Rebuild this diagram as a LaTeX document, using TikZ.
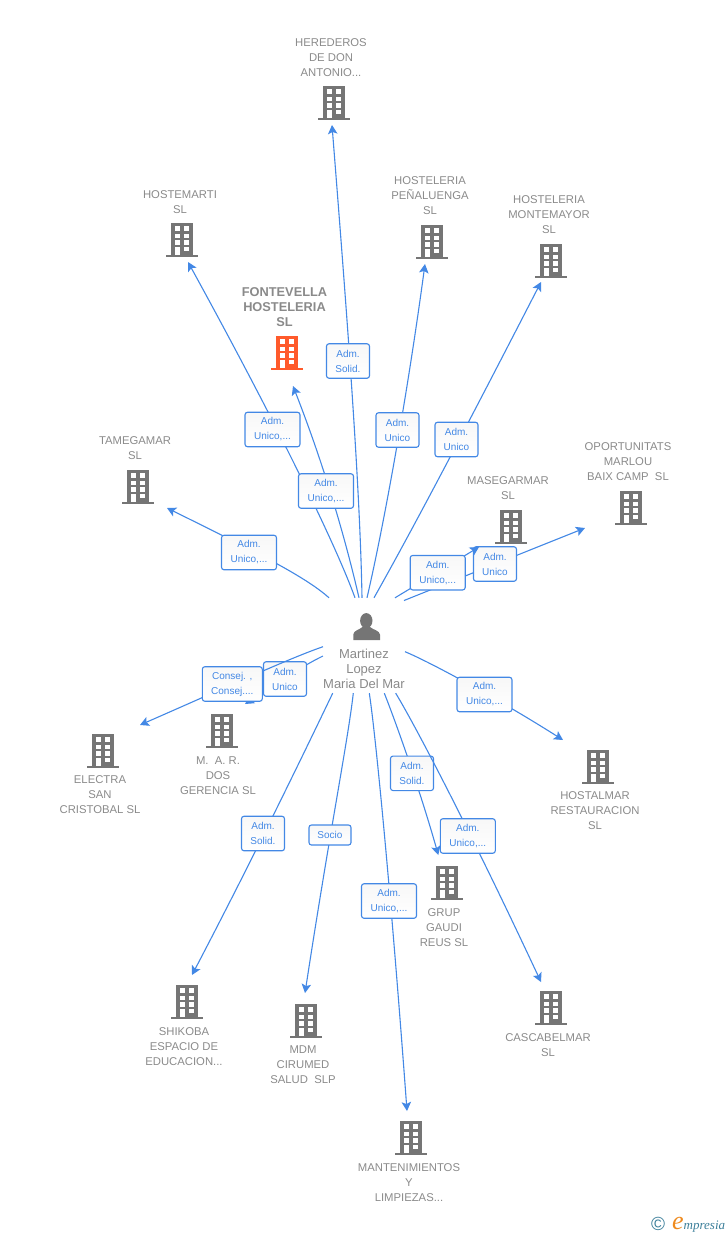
\documentclass[tikz,border=0pt]{standalone}
\usepackage{fontspec}
\setmainfont{Liberation Sans}
\newfontfamily\logofont{Liberation Serif}
\usetikzlibrary{arrows.meta}
\definecolor{iconGray}{HTML}{757575}
\definecolor{textGray}{HTML}{8A8A8A}
\definecolor{linkBlue}{HTML}{4388E5}
\definecolor{mainOrange}{HTML}{FF5A2B}
\definecolor{logoTeal}{HTML}{3C7F9A}
\definecolor{logoOrange}{HTML}{EE8A1E}
\tikzset{
    pics/building/.style = {
        code = {
        \fill [#1] (-11,-16.5) rectangle (11,15);
        \fill [#1] (-16,15) rectangle (16,17);
        \foreach \wy in {-13.2,-5.8,0.9}{
            \fill [white] (-7,\wy) rectangle ++(4.7,4.6);
            \fill [white] (2.3,\wy) rectangle ++(4.7,4.6);
        }
        \fill [white] (-7,7.5) rectangle (-2.3,15);
        \fill [white] (2.3,7.5) rectangle (7,11.7);
        }
    },
    bldbox/.style = {minimum size=46pt, inner sep=0pt},
    perbox/.style = {minimum width=82pt, minimum height=95pt, inner sep=0pt},
    txt/.style = {text=textGray, align=center, inner sep=0pt, yshift=-1pt, font=\fontsize{11.3}{15}\selectfont},
    lab/.style = {draw=linkBlue, line width=1.1pt, rounded corners=2.5pt, top color=black!3, bottom color=white,
        text=linkBlue, align=center, inner sep=0pt, minimum height=34.5pt, minimum width=55pt,
        font=\fontsize{10}{15}\selectfont},
    link/.style = {draw=linkBlue, line width=1.1pt, -{Stealth[length=9pt,width=9.5pt,inset=2pt]}},
}
\begin{document}
\begin{tikzpicture}[x=1pt,y=-1pt]
    \useasboundingbox (0,0) rectangle (728,1235);

    % person in the middle
    \node[perbox] (mm) at (364,645.5) {};
    \fill [iconGray] (366.3,620.7) ellipse (6.2 and 7.6);
    \fill [iconGray] (353.3,640) -- (353.3,634.5) .. controls (353.5,630.5) and (359,630) .. (362.5,627)
        -- (370,627) .. controls (373.5,630) and (379.5,630.5) .. (380,634.5) -- (380,640) -- cycle;
    \node[txt, font=\fontsize{13}{15}\selectfont] (mmt) at (364,668) {Martinez\\Lopez\\Maria Del Mar};

    % companies
    \path pic at (334,102.5) {building=iconGray};
    \node[bldbox] (hered) at (333,102) {};
    \node[txt] (heredt) at (331,57) {HEREDEROS\\DE DON\\ANTONIO...};

    \path pic at (182,239.5) {building=iconGray};
    \node[bldbox] (hmarti) at (181,239) {};
    \node[txt] (hmartit) at (180,201.5) {HOSTEMARTI\\SL};

    \path pic at (432,241.5) {building=iconGray};
    \node[bldbox] (hpena) at (431,241) {};
    \node[txt] (hpenat) at (430,195) {HOSTELERIA\\PEÑALUENGA\\SL};

    \path pic at (551,260.5) {building=iconGray};
    \node[bldbox] (hmonte) at (550,260) {};
    \node[txt] (hmontet) at (549,214) {HOSTELERIA\\MONTEMAYOR\\SL};

    \path pic at (287,352.5) {building=mainOrange};
    \node[bldbox] (fonte) at (287,352.5) {};
    \node[txt, font=\fontsize{12.8}{15}\selectfont\bfseries] (fontet) at (284.5,306) {FONTEVELLA\\HOSTELERIA\\SL};

    \path pic at (138,486.5) {building=iconGray};
    \node[bldbox] (tame) at (137,486) {};
    \node[txt] (tamet) at (135,447.5) {TAMEGAMAR\\SL};

    \path pic at (511,526.5) {building=iconGray};
    \node[bldbox] (mase) at (510,526) {};
    \node[txt] (maset) at (508,487.5) {MASEGARMAR\\SL};

    \path pic at (631,507.5) {building=iconGray};
    \node[bldbox] (oport) at (630,507) {};
    \node[txt] (oportt) at (628,461) {OPORTUNITATS\\MARLOU\\BAIX CAMP\ \ SL};

    \path pic at (103,750.5) {building=iconGray};
    \node[bldbox] (elec) at (102,750) {};
    \node[txt] (elect) at (100,794) {ELECTRA\\SAN\\CRISTOBAL SL};

    \path pic at (222,730.5) {building=iconGray};
    \node[bldbox] (mar) at (221,730) {};
    \node[txt] (mart) at (218,775) {M.\ \ A. R.\\DOS\\GERENCIA SL};

    \path pic at (598,766.5) {building=iconGray};
    \node[bldbox] (hosta) at (597,766) {};
    \node[txt] (hostat) at (595,810) {HOSTALMAR\\RESTAURACION\\SL};

    \path pic at (447,882.5) {building=iconGray};
    \node[bldbox] (grup) at (446,882) {};
    \node[txt] (grupt) at (444,927) {GRUP\\GAUDI\\REUS SL};

    \path pic at (187,1001.5) {building=iconGray};
    \node[bldbox] (shik) at (186,1001) {};
    \node[txt] (shikt) at (184,1046) {SHIKOBA\\ESPACIO DE\\EDUCACION...};

    \path pic at (306,1020.5) {building=iconGray};
    \node[bldbox] (mdm) at (305,1020) {};
    \node[txt] (mdmt) at (303,1064) {MDM\\CIRUMED\\SALUD\ \ SLP};

    \path pic at (551,1007.5) {building=iconGray};
    \node[bldbox] (casc) at (550,1007) {};
    \node[txt] (casct) at (548,1044.5) {CASCABELMAR\\SL};

    \path pic at (411,1137.5) {building=iconGray};
    \node[bldbox] (mant) at (410,1137) {};
    \node[txt] (mantt) at (409,1182) {MANTENIMIENTOS\\Y\\LIMPIEZAS...};

    % links, each one with its label
    \draw [link] ([shift={(-35,0)}]mm.north) .. controls (305,576) and (250,549) .. ([shift={(30,22)}]tame.center);
    \node[lab] (ltame) at (249,552.5) {Adm.\ \\Unico,...};

    \draw [link] ([shift={(-9,0)}]mm.north) .. controls (334,540) and (272,415) .. ([shift={(7,23)}]hmarti.center);
    \node[lab] (lmarti) at (272.5,429.5) {Adm.\ \\Unico,...};

    \draw [link] ([shift={(-5,0)}]mm.north) .. controls (341,520) and (318,450) .. ([shift={(6,33.5)}]fonte.center);
    \node[lab] (lfonte) at (326,491) {Adm.\ \\Unico,...};

    \draw [link] ([shift={(-2,0)}]mm.north) .. controls (360,480) and (345,290) .. ([shift={(-1,23)}]hered.center);
    \node[lab, minimum width=43pt] (lhered) at (348,361) {Adm.\ \\Solid.};

    \draw [link] ([shift={(3,0)}]mm.north) .. controls (385,520) and (408,390) .. ([shift={(-6,23)}]hpena.center);
    \node[lab, minimum width=43pt] (lpena) at (397.5,430) {Adm.\ \\Unico};

    \draw [link] ([shift={(10,0)}]mm.north) .. controls (415,525) and (470,420) .. ([shift={(-9,22)}]hmonte.center);
    \node[lab, minimum width=43pt] (lmonte) at (456.5,439.5) {Adm.\ \\Unico};

    \draw [link] ([shift={(40,2.7)}]mm.north) -- ([shift={(-45,21)}]oport.center);
    \node[lab, minimum width=43pt] (loport) at (495,564) {Adm.\ \\Unico};

    \draw [link] ([shift={(31,0)}]mm.north) -- ([shift={(-31,21)}]mase.center);
    \node[lab] (lmase) at (437.7,572.7) {Adm.\ \\Unico,...};

    \draw [link] ([shift={(41,6.2)}]mm.center) .. controls (430,662) and (500,700) .. ([shift={(-34,-26)}]hosta.center);
    \node[lab] (lhosta) at (484.5,694.5) {Adm.\ \\Unico,...};

    \draw [link] ([shift={(-41,10.5)}]mm.center) .. controls (300,667) and (270,688) .. ([shift={(24,-26)}]mar.center);
    \node[lab, minimum width=43pt] (lmar) at (285,679) {Adm.\ \\Unico};

    \draw [link] ([shift={(-41,1.2)}]mm.center) .. controls (290,658) and (220,690) .. ([shift={(38,-25)}]elec.center);
    \node[lab, minimum width=60pt] (lelec) at (232.3,684) {Consej. ,\\Consej....};

    \draw [link] ([shift={(-31.3,0)}]mm.south) .. controls (315,730) and (260,845) .. ([shift={(6,-26)}]shik.center);
    \node[lab, minimum width=43pt] (lshik) at (263,833.5) {Adm.\ \\Solid.};

    \draw [link] ([shift={(-10.7,0)}]mm.south) .. controls (348,740) and (330,830) .. ([shift={(0,-27)}]mdm.center);
    \node[lab, minimum width=42pt, minimum height=20pt] (lmdm) at (330,835) {Socio};

    \draw [link] ([shift={(5.3,0)}]mm.south) .. controls (375,730) and (390,880) .. ([shift={(-3,-26)}]mant.center);
    \node[lab] (lmant) at (389,901) {Adm.\ \\Unico,...};

    \draw [link] ([shift={(20.3,0)}]mm.south) .. controls (395,720) and (420,790) .. ([shift={(-7.7,-27)}]grup.center);
    \node[lab, minimum width=43pt] (lgrup) at (412,773.3) {Adm.\ \\Solid.};

    \draw [link] ([shift={(31.7,0)}]mm.south) .. controls (415,725) and (470,830) .. ([shift={(-9,-25)}]casc.center);
    \node[lab] (lcasc) at (467.8,836) {Adm.\ \\Unico,...};

    % logo
    \node[inner sep=0pt, text=logoTeal, font=\fontsize{19}{19}\selectfont] (copy) at (658,1224) {©};
    \node[inner sep=0pt, anchor=base west, text=logoTeal, font=\logofont\itshape\fontsize{13}{15}\selectfont] (emp) at (672,1229) {\textcolor{logoOrange}{\fontsize{26}{15}\selectfont e}mpresia};
\end{tikzpicture}
\end{document}
